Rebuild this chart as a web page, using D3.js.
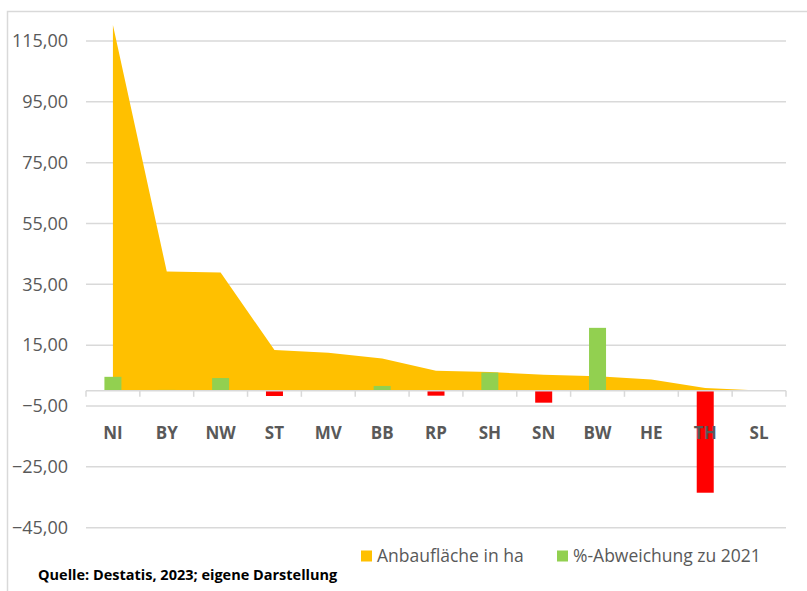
<!DOCTYPE html>
<html>
<head>
<meta charset="utf-8">
<script src="https://cdn.jsdelivr.net/npm/d3@7"></script>
<style>
  body { margin: 0; background: #fff; }
  svg { display: block; font-family: "Open Sans", sans-serif; }
</style>
</head>
<body>
<svg id="chart"></svg>
<script>
var width = 807;
var height = 591;

// Bundeslaender, sortiert nach Anbauflaeche
var categories = ["NI", "BY", "NW", "ST", "MV", "BB", "RP", "SH", "SN", "BW", "HE", "TH", "SL"];
var anbauflaeche = [120.3, 39.2, 38.9, 13.4, 12.5, 10.6, 6.6, 6.2, 5.3, 4.8, 3.7, 0.9, 0.1];
var abweichung = [4.6, 0.3, 4.2, -1.7, 0, 1.6, -1.6, 6.0, -3.9, 20.7, 0, -33.5, 0];
var yTicks = [-45, -25, -5, 15, 35, 55, 75, 95, 115];
var seriesNames = ["Anbaufläche in ha", "%-Abweichung zu 2021"];

var orange = "#FFC000";
var green = "#92D050";
var red = "#FF0000";
var grey = "#595959";
var gridColor = "#d9d9d9";

var locale = d3.formatLocale({decimal: ",", thousands: ".", grouping: [3], currency: ["", " €"]});
var fmt = locale.format(".2f");

var svg = d3.select("#chart").attr("width", width).attr("height", height);

// chart frame
svg.append("rect")
    .attr("x", 7.5).attr("y", 11.5)
    .attr("width", 820).attr("height", 600)
    .attr("fill", "none")
    .attr("stroke", gridColor)
    .attr("stroke-width", 1.5);

var x = d3.scaleBand().domain(categories).range([86, 786]).padding(0);
var y = d3.scaleLinear().domain([-45, 115]).range([527.7, 41]);

// gridlines
svg.append("g")
    .selectAll("line")
    .data(yTicks)
    .enter().append("line")
    .attr("x1", 86).attr("x2", 786)
    .attr("y1", function (d) { return y(d); })
    .attr("y2", function (d) { return y(d); })
    .attr("stroke", gridColor)
    .attr("stroke-width", 1.5);

// y labels
svg.append("g")
    .selectAll("text")
    .data(yTicks)
    .enter().append("text")
    .attr("x", 68)
    .attr("y", function (d) { return y(d); })
    .attr("dy", "0.35em")
    .attr("text-anchor", "end")
    .style("font-size", "18px")
    .style("fill", grey)
    .text(function (d) { return fmt(d); });

// area series
var area = d3.area()
    .x(function (d, i) { return x(categories[i]) + x.bandwidth() / 2; })
    .y0(y(0))
    .y1(function (d) { return y(d); });

svg.append("path")
    .datum(anbauflaeche)
    .attr("d", area)
    .attr("fill", orange);

// deviation bars
var barW = 17;
svg.append("g")
    .selectAll("rect")
    .data(abweichung)
    .enter().append("rect")
    .attr("x", function (d, i) { return x(categories[i]) + x.bandwidth() / 2 - barW / 2; })
    .attr("y", function (d) { return y(Math.max(0, d)); })
    .attr("width", barW)
    .attr("height", function (d) { return Math.abs(y(d) - y(0)); })
    .attr("fill", function (d) { return d < 0 ? red : green; });

// category axis at zero
var axisY = y(0);
svg.append("line")
    .attr("x1", 86).attr("x2", 786)
    .attr("y1", axisY).attr("y2", axisY)
    .attr("stroke", gridColor)
    .attr("stroke-width", 1.5);

var tickPos = categories.map(function (c) { return x(c); }).concat([786]);
svg.append("g")
    .selectAll("line")
    .data(tickPos)
    .enter().append("line")
    .attr("x1", function (d) { return d; })
    .attr("x2", function (d) { return d; })
    .attr("y1", axisY).attr("y2", axisY + 6)
    .attr("stroke", gridColor)
    .attr("stroke-width", 1.5);

svg.append("g")
    .selectAll("text")
    .data(categories)
    .enter().append("text")
    .attr("x", function (d) { return x(d) + x.bandwidth() / 2; })
    .attr("y", 433)
    .attr("dy", "0.35em")
    .attr("text-anchor", "middle")
    .style("font-size", "17px")
    .style("font-weight", "bold")
    .style("fill", grey)
    .text(function (d) { return d; });

// legend
var legendX = [361, 557];
var legendColors = [orange, green];
var legend = svg.append("g")
    .selectAll("g")
    .data(seriesNames)
    .enter().append("g")
    .attr("transform", function (d, i) { return "translate(" + legendX[i] + ",556)"; });

legend.append("rect")
    .attr("x", 0).attr("y", -5.5)
    .attr("width", 11).attr("height", 11)
    .attr("fill", function (d, i) { return legendColors[i]; });

legend.append("text")
    .attr("x", 16)
    .attr("dy", "0.35em")
    .style("font-size", "17.5px")
    .style("fill", grey)
    .text(function (d) { return d; });

// source
svg.append("text")
    .attr("x", 38)
    .attr("y", 580)
    .style("font-size", "14.5px")
    .style("font-weight", "bold")
    .style("fill", "#000")
    .text("Quelle: Destatis, 2023; eigene Darstellung");
</script>
</body>
</html>
